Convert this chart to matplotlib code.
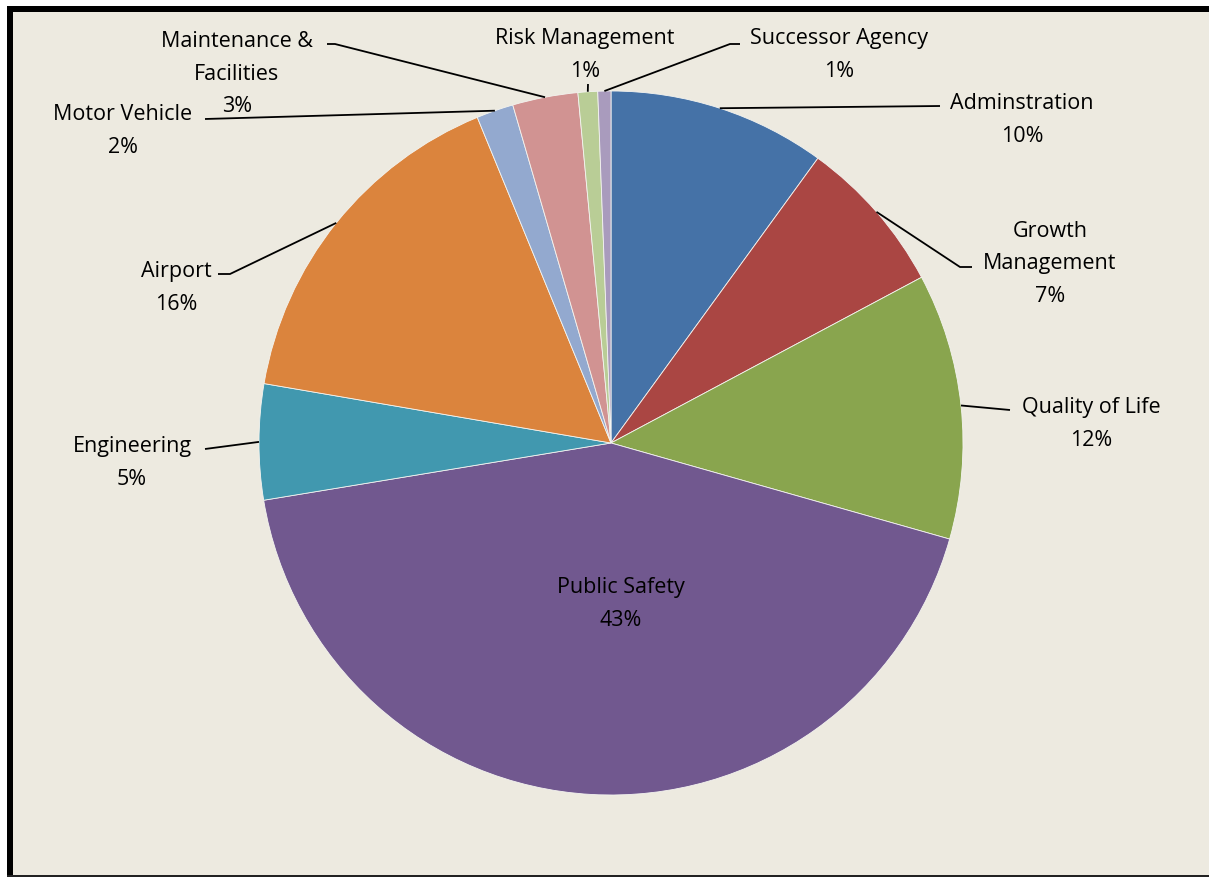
import numpy as np
import matplotlib
matplotlib.use('Agg')
import matplotlib.pyplot as plt
from matplotlib.patches import Rectangle

# ── Data ────────────────────────────────────────────────────
labels = ['Adminstration', 'Growth\nManagement', 'Quality of Life', 'Public Safety',
          'Engineering', 'Airport', 'Motor Vehicle', 'Maintenance &\nFacilities',
          'Risk Management', 'Successor Agency']
shares = [10.0, 7.2, 12.2, 43.0, 5.3, 16.1, 1.7, 3.0, 0.9, 0.6]
colors = ['#4572A7', '#AA4643', '#89A54E', '#71588F', '#4198AF',
          '#DB843D', '#93A9CF', '#D19392', '#B9CD96', '#A99BBD']

# ── Layout (pixels, measured from top-left) ─────────────────
W, H = 1209, 878
BG = '#EDEAE0'
CX, CY, R = 611, 444, 352
label_pos = [(1022, 120), (1050, 264), (1091, 424), (621, 604), (132, 463),
             (176, 288), (123, 131), (237, 74), (585, 55), (839, 55)]
elbows = [[(940, 107)], [(960, 268), (972, 268)], [(1010, 411)], None,
          [(205, 450)], [(230, 275), (218, 275)], [(205, 120)],
          [(335, 45), (327, 45)], [(588, 85)], [(730, 45), (740, 45)]]

fig = plt.figure(figsize=(W / 100, H / 100), dpi=100)
fig.patch.set_facecolor('white')
ax = fig.add_axes([0, 0, 1, 1])

# frame
ax.add_patch(Rectangle((13, 2), W - 13, H - 15, facecolor=BG, edgecolor='none', zorder=0))
ax.add_patch(Rectangle((7, H - 13), W, 6, facecolor='black', edgecolor='none', zorder=0))
ax.add_patch(Rectangle((7, 0), 6, H - 7, facecolor='black', edgecolor='none', zorder=0))
ax.add_patch(Rectangle((7, 0), W, 2, facecolor='#222222', edgecolor='none', zorder=0))

wedges, _ = ax.pie(shares, colors=colors, startangle=90, counterclock=False,
                   center=(CX, H - CY), radius=R,
                   wedgeprops=dict(edgecolor='#F4F4F0', linewidth=0.6))

font = dict(family=['Open Sans', 'DejaVu Sans'], fontsize=15.5, color='black')
for w, lab, s, pos, elb in zip(wedges, labels, shares, label_pos, elbows):
    ax.text(pos[0], H - pos[1], f"{lab}\n{round(s)}%", ha='center', va='center',
            linespacing=1.69, zorder=5, **font)
    if elb is None:
        continue
    mid = np.deg2rad((w.theta1 + w.theta2) / 2)
    pts = [(CX + R * np.cos(mid), H - CY + R * np.sin(mid))]
    pts += [(x, H - y) for x, y in elb]
    xs, ys = zip(*pts)
    ax.plot(xs, ys, color='black', lw=1.3, zorder=4, solid_capstyle='butt')

ax.set_xlim(0, W)
ax.set_ylim(0, H)
ax.set_aspect('auto')
ax.axis('off')

plt.savefig('out.png', dpi=100, facecolor='white')
